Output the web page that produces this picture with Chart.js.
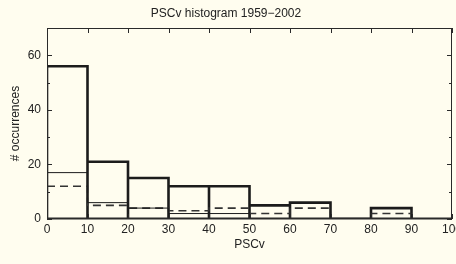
<!DOCTYPE html>
<html>
<head>
<meta charset="utf-8">
<script src="https://cdn.jsdelivr.net/npm/chart.js@4"></script>
<style>
  html, body { margin: 0; padding: 0; background: #fffdef; }
  #wrap { width: 456px; height: 264px; overflow: hidden; }
</style>
</head>
<body>
<div id="wrap"><canvas id="histo" width="470" height="264"></canvas></div>
<script>
// bin left edges, bins are 10 wide
const binEdges = [0, 10, 20, 30, 40, 50, 60, 70, 80];
const binWidth = 10;
// all events (thick boxes)
const totalCounts = [56, 21, 15, 12, 12, 5, 6, 0, 4];
// thin solid steps
const thinCounts = [17, 6, 4, 2, 2, 5, 6, 0, 4];
// dashed steps
const dashedCounts = [12, 5, 4, 3, 4, 2, 4, 0, 2];

const xTickValues = [0, 10, 20, 30, 40, 50, 60, 70, 80, 90, 100];
const yTickValues = [0, 20, 40, 60];
const yMinorValues = [10, 30, 50];

const bg = '#fffdef';
const ink = '#1c1c1c';
const font = { family: '"Liberation Sans", Arial, sans-serif', size: 12, weight: 'normal' };

// box outline for each bin: up, across, down
function boxPath(counts) {
    const pts = [];
    counts.forEach((c, i) => {
        const x0 = binEdges[i], x1 = binEdges[i] + binWidth;
        pts.push({x: x0, y: 0}, {x: x0, y: c}, {x: x1, y: c}, {x: x1, y: 0});
    });
    return pts;
}
// step line: horizontal at each bin value
function stepPath(counts) {
    const pts = counts.map((c, i) => ({x: binEdges[i], y: c}));
    pts.push({x: binEdges[counts.length - 1] + binWidth, y: counts[counts.length - 1]});
    return pts;
}

const frame = {
    id: 'frame',
    beforeDraw(chart) {
        const c = chart.ctx;
        c.save();
        c.fillStyle = bg;
        c.fillRect(0, 0, chart.width, chart.height);
        c.restore();
    },
    afterDatasetsDraw(chart) {
        const {ctx: c, chartArea: a, scales} = chart;
        c.save();
        c.strokeStyle = '#2a2a2a';
        c.lineWidth = 1;
        c.strokeRect(a.left + 0.5, a.top + 0.5, a.right - a.left - 1, a.bottom - a.top - 1);
        c.lineWidth = 2;
        c.beginPath();
        c.moveTo(a.left, a.bottom - 0.5);
        c.lineTo(a.right, a.bottom - 0.5);
        c.stroke();
        c.lineWidth = 1;
        c.beginPath();
        xTickValues.forEach(v => {
            const px = Math.round(scales.x.getPixelForValue(v)) + 0.5;
            c.moveTo(px, a.bottom); c.lineTo(px, a.bottom - 5);
            c.moveTo(px, a.top); c.lineTo(px, a.top + 5);
        });
        yTickValues.forEach(v => {
            const py = Math.round(scales.y.getPixelForValue(v)) + 0.5;
            c.moveTo(a.left, py); c.lineTo(a.left + 5, py);
            c.moveTo(a.right, py); c.lineTo(a.right - 5, py);
        });
        yMinorValues.forEach(v => {
            const py = Math.round(scales.y.getPixelForValue(v)) + 0.5;
            c.moveTo(a.left, py); c.lineTo(a.left + 3, py);
            c.moveTo(a.right, py); c.lineTo(a.right - 3, py);
        });
        c.stroke();
        c.restore();
    }
};

new Chart(document.getElementById('histo'), {
    type: 'line',
    data: {
        datasets: [{
            label: 'thin',
            data: stepPath(thinCounts),
            stepped: true,
            borderColor: ink,
            borderWidth: 1,
            pointRadius: 0
        }, {
            label: 'dashed',
            data: stepPath(dashedCounts),
            stepped: true,
            borderColor: '#333333',
            borderWidth: 1.6,
            borderDash: [8, 5],
            pointRadius: 0
        }, {
            label: 'all',
            data: boxPath(totalCounts),
            borderColor: ink,
            borderWidth: 2.6,
            borderJoinStyle: 'miter',
            pointRadius: 0
        }]
    },
    plugins: [frame],
    options: {
        responsive: false,
        devicePixelRatio: 1,
        animation: false,
        layout: { padding: { left: 0, top: 0, right: 18, bottom: 0 } },
        plugins: {
            legend: { display: false },
            tooltip: { enabled: false },
            title: {
                display: true,
                text: 'PSCv histogram 1959−2002',
                color: '#222',
                font: font,
                padding: { top: 6.8, bottom: 6.8 }
            }
        },
        scales: {
            x: {
                type: 'linear',
                min: 0,
                max: 100,
                grid: { display: false, drawTicks: false },
                border: { display: false },
                afterBuildTicks: s => { s.ticks = xTickValues.map(v => ({value: v})); },
                afterFit: s => { s.height = 45; },
                ticks: { color: '#222', font: font, padding: 3, maxRotation: 0 },
                title: { display: true, text: 'PSCv', color: '#222', font: font, padding: { top: 0, bottom: 12 } }
            },
            y: {
                min: 0,
                max: 70,
                grid: { display: false, drawTicks: false },
                border: { display: false },
                afterBuildTicks: s => { s.ticks = yTickValues.map(v => ({value: v})); },
                afterFit: s => { s.width = 47; },
                ticks: { color: '#222', font: font, padding: 6 },
                title: { display: true, text: '# occurrences', color: '#222', font: font, padding: { top: 8, bottom: 0 } }
            }
        }
    }
});
</script>
</body>
</html>
